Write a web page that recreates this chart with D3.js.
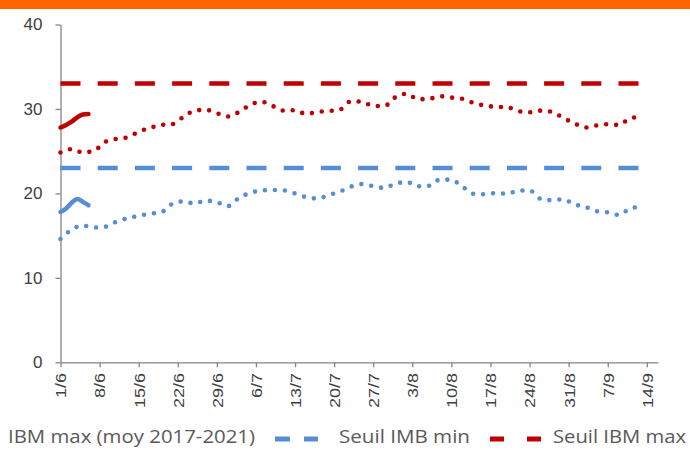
<!DOCTYPE html>
<html>
<head>
<meta charset="utf-8">
<script src="https://cdn.jsdelivr.net/npm/d3@7"></script>
<style>
  html, body { margin: 0; padding: 0; background: #fff; }
  svg { display: block; }
</style>
</head>
<body>
<svg id="chart" width="690" height="450"></svg>
<script>
// moyenne 2017-2021, un point tous les 2 jours
const dates = [
  "1/6","3/6","5/6","7/6","9/6","11/6","13/6","15/6","17/6","19/6","21/6","23/6","25/6","27/6","29/6",
  "1/7","3/7","5/7","7/7","9/7","11/7","13/7","15/7","17/7","19/7","21/7","23/7","25/7","27/7","29/7","31/7",
  "2/8","4/8","6/8","8/8","10/8","12/8","14/8","16/8","18/8","20/8","22/8","24/8","26/8","28/8","30/8",
  "1/9","3/9","5/9","7/9","9/9","11/9","13/9"
];
const ibmMaxMoy = [
  24.85, 25.25, 24.85, 25.05, 26.1, 26.45, 26.65, 27.3, 27.75, 28.1, 28.2, 29.05, 29.8, 29.9, 29.5,
  29.1, 29.65, 30.5, 30.85, 30.35, 29.8, 29.85, 29.4, 29.65, 29.75, 29.9, 30.9, 30.85, 30.35, 30.35, 31.4,
  31.8, 31.15, 31.2, 31.5, 31.35, 31.2, 30.7, 30.4, 30.25, 30.2, 29.75, 29.6, 29.8, 29.65, 28.95,
  28.3, 27.8, 28.05, 28.2, 28.1, 28.9, 29.05
];
const ibmMinMoy = [
  14.6, 15.7, 16.2, 15.95, 16.05, 16.65, 17.05, 17.35, 17.6, 17.75, 18.75, 19.05, 18.8, 19.15, 18.95,
  18.5, 19.5, 20.05, 20.35, 20.4, 20.35, 20.0, 19.55, 19.4, 19.8, 20.2, 20.8, 21.1, 20.85, 20.65, 21.15,
  21.35, 20.85, 20.9, 21.65, 21.6, 20.8, 19.95, 19.9, 20.05, 19.95, 20.35, 20.35, 19.35, 19.2, 19.3,
  18.7, 18.4, 17.9, 17.75, 17.45, 18.2, 18.4
];

// annee en cours
const dates2022 = ["1/6","2/6","3/6","4/6","5/6","6/6"];
const ibmMax2022 = [27.8, 28.1, 28.5, 29.0, 29.35, 29.4];
const ibmMin2022 = [17.8, 18.2, 18.9, 19.35, 19.0, 18.6];

const seuilMin = 23;
const seuilMax = 33;

const tickLabels = ["1/6","8/6","15/6","22/6","29/6","6/7","13/7","20/7","27/7","3/8","10/8","17/8","24/8","31/8","7/9","14/9"];
const yTicks = [0, 10, 20, 30, 40];
const xStart = "1/6", xEnd = "16/9", seuilEnd = "14/9";

const parse = s => d3.timeParse("%d/%m/%Y")(s + "/2022");
const red = "#C00000", blue = "#558ED5", axisGrey = "#868686";

const svg = d3.select('#chart');

// bandeau orange du haut
svg.append('rect').attr('x', 0).attr('y', 0).attr('width', 690).attr('height', 9).attr('fill', '#FF6600');

const x = d3.scaleTime().domain([parse(xStart), parse(xEnd)]).range([60.5, 658]);
const y = d3.scaleLinear().domain([0, 40]).range([362.3, 24.5]);

// axes
const yAxis = svg.append('g').attr('transform', 'translate(60.5,0)')
  .call(d3.axisLeft(y).tickValues(yTicks).tickSize(5).tickSizeOuter(0).tickPadding(13));
const xAxis = svg.append('g').attr('transform', 'translate(0,362.3)')
  .call(d3.axisBottom(x).tickValues(tickLabels.map(parse)).tickFormat(d3.timeFormat('%-d/%-m'))
    .tickSize(5).tickSizeOuter(0));

[yAxis, xAxis].forEach(a => {
  a.select('.domain').attr('stroke', axisGrey).attr('stroke-width', 1.3);
  a.selectAll('.tick line').attr('stroke', axisGrey).attr('stroke-width', 1.3);
  a.selectAll('text').attr('fill', '#404040').style('font-family', 'Liberation Sans, Arial, sans-serif');
});
yAxis.selectAll('text').style('font-size', '17px');
xAxis.selectAll('text')
  .style('font-size', '15px')
  .attr('text-anchor', 'end')
  .attr('transform', 'rotate(-90) scale(1.2,1)')
  .attr('x', -9).attr('y', 0).attr('dy', '0.36em');

// seuils
const seuils = [{v: seuilMax, c: red}, {v: seuilMin, c: blue}];
svg.selectAll('line.seuil').data(seuils).enter().append('line')
  .attr('class', 'seuil')
  .attr('x1', x(parse(xStart))).attr('x2', x(parse(seuilEnd)))
  .attr('y1', d => y(d.v)).attr('y2', d => y(d.v))
  .attr('stroke', d => d.c).attr('stroke-width', 4.5)
  .attr('stroke-dasharray', '20,17.2');

const line = d3.line().x(d => x(d.date)).y(d => y(d.v)).curve(d3.curveMonotoneX);

// moyennes 2017-2021 en pointilles
const moy = [{vals: ibmMaxMoy, c: red}, {vals: ibmMinMoy, c: blue}];
moy.forEach(s => {
  const pts = dates.map((d, i) => ({date: parse(d), v: s.vals[i]}));
  svg.append('path').datum(pts)
    .attr('d', line)
    .attr('fill', 'none').attr('stroke', s.c).attr('stroke-width', 4.6)
    .attr('stroke-linecap', 'round').attr('stroke-dasharray', '0,10');
});

// 2022 en trait plein
const cur = [{vals: ibmMax2022, c: red}, {vals: ibmMin2022, c: blue}];
cur.forEach(s => {
  const pts = dates2022.map((d, i) => ({date: parse(d), v: s.vals[i]}));
  svg.append('path').datum(pts)
    .attr('d', line)
    .attr('fill', 'none').attr('stroke', s.c).attr('stroke-width', 4.5)
    .attr('stroke-linecap', 'round').attr('stroke-linejoin', 'round');
});

// legende (coupee a gauche comme l'original)
const legFont = 'Open Sans, sans-serif';
const legend = svg.append('g');
legend.append('text').attr('x', 8).attr('y', 443)
  .attr('fill', '#595959').style('font-family', legFont).style('font-size', '19px')
  .attr('textLength', 247).attr('lengthAdjust', 'spacingAndGlyphs')
  .text('IBM max (moy 2017-2021)');

const legItems = [
  {label: 'Seuil IMB min', c: blue, dashes: [[275, 290], [304, 318]], tx: 339, tl: 131},
  {label: 'Seuil IBM max', c: red, dashes: [[490, 504], [527, 541]], tx: 553, tl: 133}
];
legItems.forEach(it => {
  it.dashes.forEach(dd => {
    legend.append('line').attr('x1', dd[0]).attr('x2', dd[1]).attr('y1', 439).attr('y2', 439)
      .attr('stroke', it.c).attr('stroke-width', 5);
  });
  legend.append('text').attr('x', it.tx).attr('y', 443)
    .attr('fill', '#595959').style('font-family', legFont).style('font-size', '19px')
    .attr('textLength', it.tl).attr('lengthAdjust', 'spacingAndGlyphs')
    .text(it.label);
});
</script>
</body>
</html>
